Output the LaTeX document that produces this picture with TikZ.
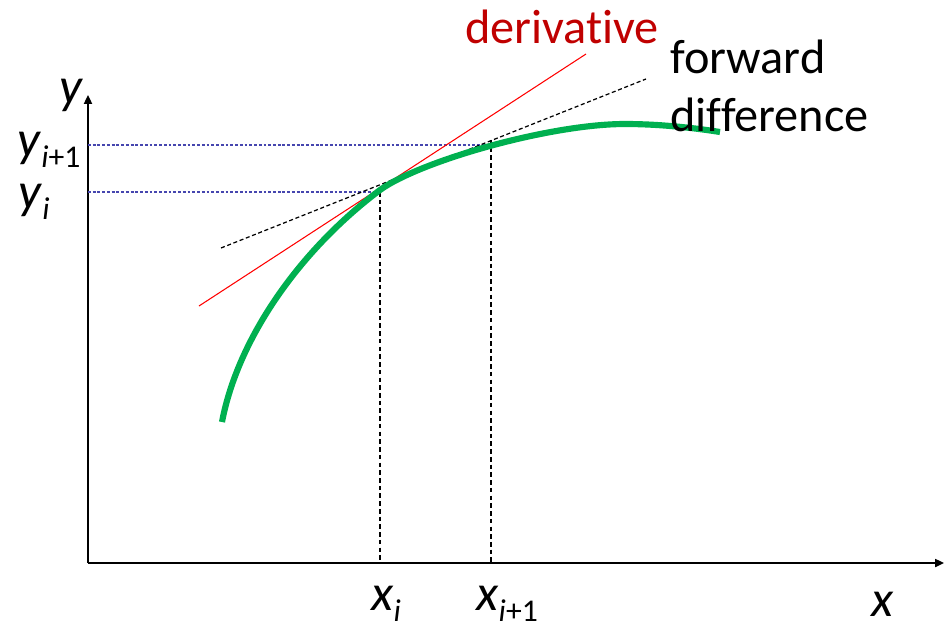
\documentclass[tikz,border=0pt]{standalone}
\usepackage{fontspec}
\setmainfont{Carlito}[Ligatures=NoCommon]
\usetikzlibrary{arrows.meta}
\definecolor{curvegreen}{RGB}{0,176,80}
\definecolor{derivred}{RGB}{192,0,0}
\definecolor{guideblue}{RGB}{70,70,175}
\newcommand{\ilabel}[2]{{\fontsize{29}{32}\selectfont\textit{#1}}\raisebox{-6pt}{\fontsize{18}{20}\selectfont #2}}
\tikzset{
  axis/.style={line width=1.1pt,-{Triangle[length=5pt,width=4.5pt]}},
  guide/.style={guideblue,line width=.7pt,dash pattern=on 1.6pt off 1.1pt},
  drop/.style={black,line width=.6pt,dash pattern=on 2.6pt off 1.8pt},
  secant/.style={black,line width=.7pt,dash pattern=on 2.3pt off 1.5pt},
}
\begin{document}
\begin{tikzpicture}[x=0.02cm,y=-0.02cm,font=\fontsize{27.5}{33}\selectfont]
\useasboundingbox (0,0) rectangle (944,629);
% axes
\coordinate (O) at (88,563);
\coordinate (ytop) at (88,95);
\coordinate (xend) at (944,563);
\draw[axis] (O) -- (ytop);
\draw[axis] (O) -- (xend);
% points on the curve and their projections
\coordinate (Pi) at (380,192);
\coordinate (Pn) at (491,140);
\coordinate (yi) at (88,192);
\coordinate (yn) at (88,145);
\coordinate (xi) at (380,563);
\coordinate (xn) at (491,563);
\draw[guide] (yi) -- (Pi);
\draw[guide] (yn) -- (Pn |- yn);
\draw[drop] (Pi) -- (xi);
\draw[drop] (Pn) -- (xn);
% tangent and forward difference
\coordinate (d0) at (199,306);
\coordinate (d1) at (586,54);
\coordinate (f0) at (221,248);
\coordinate (f1) at (646,79);
\draw[red,line width=.6pt] (d0) -- (d1);
\draw[secant] (f0) -- (f1);
% function
\draw[curvegreen,line width=3.5pt] (222,422) .. controls (238,338) and (300,250) .. (380,190)
  .. controls (420,161) and (550,124) .. (625,124)
  .. controls (660,124) and (695,128) .. (720,132);
% labels
\node[font=\fontsize{29}{32}\selectfont\itshape] (ylab) at (71,95) {y};
\node[anchor=west,inner sep=0] (ynlab) at (17,150) {\ilabel{y}{\textit{i}+1}};
\node[anchor=west,inner sep=0] (yilab) at (18,202) {\ilabel{y}{\textit{i}}};
\node[anchor=west,inner sep=0] (xilab) at (371,604) {\ilabel{x}{\textit{i}}};
\node[anchor=west,inner sep=0] (xnlab) at (476,604) {\ilabel{x}{\textit{i}+1}};
\node[font=\fontsize{29}{32}\selectfont\itshape] (xlab) at (883,604) {x};
\node[derivred] (derlab) at (562,27) {derivative};
\node[anchor=west,align=left,inner sep=0] (fwdlab) at (670,86) {forward\\difference};
\end{tikzpicture}
\end{document}
